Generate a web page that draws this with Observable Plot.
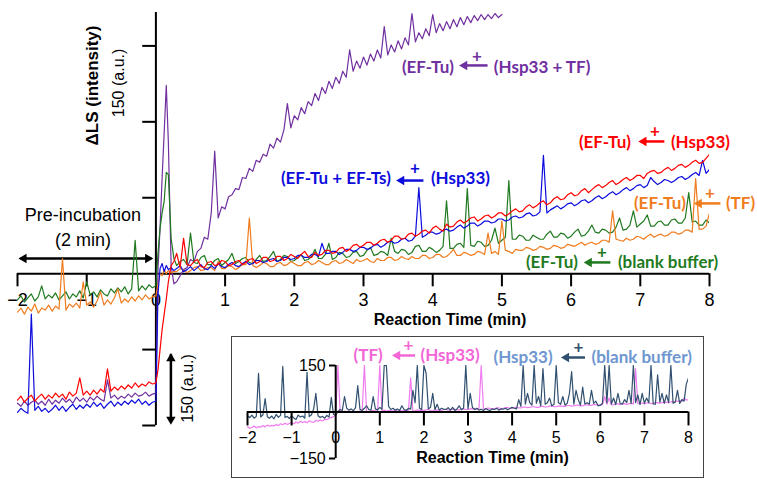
<!DOCTYPE html>
<html>
<head>
<meta charset="utf-8">
<script src="https://cdn.jsdelivr.net/npm/d3@7"></script>
<script src="https://cdn.jsdelivr.net/npm/@observablehq/plot@0.6"></script>
<style>
  body { margin: 0; background: #fff; }
  #wrap { position: relative; width: 757px; height: 484px; overflow: hidden; }
  #main { position: absolute; left: 0; top: 0; }
  #inset { position: absolute; left: 231px; top: 336px; width: 471px; height: 140px; border: 1.5px solid #444; background: #fff; }
</style>
</head>
<body>
<div id="wrap"><div id="main"></div><div id="inset"></div></div>
<script>
// sampling times (min)
const tPre = [-2,-1.95,-1.9,-1.85,-1.8,-1.75,-1.7,-1.65,-1.6,-1.55,-1.5,-1.45,-1.4,-1.35,-1.3,-1.25,-1.2,-1.15,-1.1,-1.05,
  -1,-0.95,-0.9,-0.85,-0.8,-0.75,-0.7,-0.65,-0.6,-0.55,-0.5,-0.45,-0.4,-0.35,-0.3,-0.25,-0.2,-0.15,-0.1,-0.05];
const tStart = [0,0.03,0.06,0.09,0.12,0.15,0.18,0.22,0.26];
const tInsetStart = [0,0.05,0.1,0.15,0.2,0.25];
const tPost = [0.3,0.35,0.4,0.45,0.5,0.55,0.6,0.65,0.7,0.75,
  0.8,0.85,0.9,0.95,1,1.05,1.1,1.15,1.2,1.25,
  1.3,1.35,1.4,1.45,1.5,1.55,1.6,1.65,1.7,1.75,
  1.8,1.85,1.9,1.95,2,2.05,2.1,2.15,2.2,2.25,
  2.3,2.35,2.4,2.45,2.5,2.55,2.6,2.65,2.7,2.75,
  2.8,2.85,2.9,2.95,3,3.05,3.1,3.15,3.2,3.25,
  3.3,3.35,3.4,3.45,3.5,3.55,3.6,3.65,3.7,3.75,
  3.8,3.85,3.9,3.95,4,4.05,4.1,4.15,4.2,4.25,
  4.3,4.35,4.4,4.45,4.5,4.55,4.6,4.65,4.7,4.75,
  4.8,4.85,4.9,4.95,5,5.05,5.1,5.15,5.2,5.25,
  5.3,5.35,5.4,5.45,5.5,5.55,5.6,5.65,5.7,5.75,
  5.8,5.85,5.9,5.95,6,6.05,6.1,6.15,6.2,6.25,
  6.3,6.35,6.4,6.45,6.5,6.55,6.6,6.65,6.7,6.75,
  6.8,6.85,6.9,6.95,7,7.05,7.1,7.15,7.2,7.25,
  7.3,7.35,7.4,7.45,7.5,7.55,7.6,7.65,7.7,7.75,
  7.8,7.85,7.9,7.95,8];
const times = [...tPre, ...tStart, ...tPost];
const insetTimes = [...tPre, ...tInsetStart, ...tPost];

// (EF-Tu) + (Hsp33 + TF), recorded to 5 min
const tuHspTf = [-128,-131,-126,-130,-127,-125,-129,-126,-130,-124,
  -129,-125,-128,-123,-127,-124,-128,-122,-126,-123,
  -127,-122,-125,-121,-124,-126,-105,-123,-120,-124,
  -121,-123,-119,-122,-118,-121,-120,-117,-121,-119,
  -118,5,45,95,140,186,130,8,-10,
  -8,-2,4,6,14,12,22,25,36,34,
  60,121,55,66,64,76,78,84,83,95,
  94,104,101,112,110,118,116,128,124,134,
  130,142,168,144,156,152,164,158,170,166,
  178,171,184,178,190,183,194,188,200,194,
  221,200,210,203,214,206,217,210,221,213,
  244,216,226,219,230,222,233,226,257,229,
  238,232,242,235,256,238,247,240,249,242,
  251,244,253,246,254,248,255,250,256,251,
  256,252,257,253,256];

// (EF-Tu) + (blank buffer)
const tuBlank = [-26,-22,-28,-24,-20,-27,-23,-12,-25,-21,
  -24,-19,-26,-22,-18,-25,-20,-23,-17,-24,
  -8,-21,-18,-23,-16,-20,-22,-15,-19,-14,
  -18,-13,-20,-15,33,-17,-12,-16,-11,-14,
  -12,20,45,60,72,100,98,35,15,
  8,12,14,9,40,11,10,16,18,9,
  9,13,15,8,11,14,20,10,12,15,
  16,11,10,14,18,12,13,17,22,12,
  14,18,17,12,13,16,19,13,14,17,
  24,15,15,19,30,14,16,21,20,16,
  17,21,22,17,18,23,26,18,19,22,
  21,18,35,22,20,24,23,19,21,27,
  28,22,22,26,24,21,23,27,72,25,
  25,29,30,26,84,28,27,32,31,27,
  28,33,45,30,33,36,92,34,34,38,
  37,33,33,38,36,34,34,39,42,36,
  36,40,39,35,37,41,44,37,38,42,
  48,41,40,44,43,40,41,46,55,43,
  44,48,62,46,49,52,58,47,47,51,
  52,48,48,53,54,50,50,55,80,51,
  52,48,48,53,50];

// (EF-Tu) + (TF)
const tuTf = [-38,-34,-40,-33,-37,-30,-39,-34,-36,-31,
  -37,-32,-35,15,-36,-30,-33,-29,-34,-8,
  -31,-28,-33,-27,-18,-31,-26,-30,-24,-15,
  -29,-25,-28,-23,-27,-22,-26,-21,-25,-23,
  -22,-10,0,-2,4,0,3,1,2,
  2,5,4,1,3,6,7,3,4,6,
  6,3,12,5,5,8,7,4,6,9,
  9,55,8,6,8,11,10,7,7,10,
  11,8,9,12,10,8,8,11,12,9,
  10,13,11,9,9,12,13,10,11,14,
  12,10,14,12,13,15,12,11,15,13,
  13,16,16,13,14,17,15,14,17,15,
  15,18,18,15,16,19,19,16,17,20,
  24,18,18,21,20,18,19,22,21,19,
  40,20,22,19,52,23,22,20,24,23,
  23,26,25,23,24,27,26,24,25,28,
  27,25,26,29,28,27,29,31,28,30,
  31,29,30,33,33,31,62,34,33,32,
  35,33,34,37,36,34,37,39,36,38,
  39,37,38,41,41,39,40,43,43,41,
  94,44,44,47,60];

// (EF-Tu + EF-Ts) + (Hsp33)
const tuTsHsp = [-137,-133,-136,-138,-40,-135,-131,-136,-133,-137,
  -134,-130,-135,-131,-136,-132,-129,-134,-130,-133,
  -129,-132,-127,-131,-128,-133,-129,-126,-131,-127,
  -130,-126,-129,-125,-128,-124,-129,-126,-130,-127,
  -126,-20,5,10,2,8,4,6,3,
  5,8,2,4,7,3,6,9,5,4,
  8,5,10,7,6,9,11,8,7,10,
  12,9,10,13,13,11,12,14,15,12,
  13,16,16,14,15,18,18,16,16,19,
  19,17,30,20,20,22,22,19,21,24,
  24,22,23,26,26,24,25,28,29,26,
  28,31,32,30,31,34,35,32,33,37,
  85,36,38,41,41,39,40,43,44,42,
  43,46,48,45,47,50,50,47,49,52,
  52,50,51,54,54,52,53,56,57,55,
  56,59,60,57,58,61,117,60,63,65,
  67,64,66,69,70,67,69,72,73,70,
  72,75,77,74,76,79,81,78,80,83,
  85,82,84,87,88,85,87,95,91,88,
  90,93,92,90,92,95,96,93,95,98,
  100,97,112,99,103];

// (EF-Tu) + (Hsp33)
const tuHsp = [-125,-121,-127,-123,-120,-126,-122,-119,-124,-120,
  -123,-118,-122,-119,-124,-117,-121,-118,-103,-120,
  -116,-120,-115,-119,-114,-117,-94,-116,-112,-115,
  -111,-114,-110,-113,-108,-112,-109,-111,-107,-109,
  -108,-95,-75,-55,-40,-25,-8,8,12,
  20,6,35,9,8,12,14,7,6,11,
  12,8,9,13,12,8,9,12,13,9,
  11,14,15,10,12,16,16,12,13,17,
  17,13,15,19,17,15,19,22,17,16,
  21,18,19,23,23,20,21,25,26,22,
  24,28,29,26,28,31,31,28,30,33,
  34,31,33,37,37,34,35,39,40,37,
  39,42,43,40,45,47,44,42,49,46,
  47,51,53,50,52,55,56,52,54,57,
  58,55,57,60,60,57,59,62,64,61,
  62,66,68,65,67,70,72,68,70,74,
  76,73,74,78,80,77,78,82,84,80,
  83,86,88,85,87,90,92,88,90,93,
  95,92,94,97,97,94,99,101,102,99,
  100,103,105,102,104,107,108,105,107,110,
  112,109,110,114,118];

// inset: (Hsp33) + (blank buffer)
const hspBlank = [-12,-18,-10,-20,-14,125,-16,-9,43,-15,
  -20,-13,-22,-8,-17,-11,147,-18,-14,-21,
  -12,-19,-24,-10,-16,-13,-20,128,-15,-9,
  10,60,-12,-18,-14,-20,-11,-16,47,-8,
  -10,2,8,5,50,12,6,10,4,14,
  85,9,5,12,20,8,6,50,10,7,
  15,9,150,150,18,8,12,6,10,5,
  20,8,5,12,9,70,30,150,12,8,
  150,125,10,15,60,8,25,6,12,9,
  8,14,6,15,5,10,20,7,12,150,
  10,60,15,8,12,6,9,5,11,7,
  5,10,8,12,6,10,9,12,7,11,
  15,12,10,40,18,150,25,60,30,22,
  150,28,50,20,140,25,30,45,20,24,
  150,30,25,50,22,28,60,130,25,70,
  40,22,80,26,30,25,70,28,35,20,
  22,28,150,30,150,26,45,24,60,28,
  25,40,30,70,28,150,30,55,24,60,
  28,45,30,150,26,25,120,32,60,28,
  55,30,150,28,32,70,28,40,35,90,
  110];

// inset: (TF) + (Hsp33)
const tfHsp = [-48,-52,-50,-45,-51,-47,-49,-44,-48,-42,
  -46,-43,-45,-40,-44,-38,-41,-36,-40,-37,
  -34,-38,-32,-36,-30,-34,-31,-35,-28,-32,
  -33,-27,-30,-26,-29,-24,-25,-20,-18,-15,
  -10,150,5,-2,3,0,4,-1,3,1,
  0,4,2,150,3,2,3,5,4,2,
  150,3,6,2,5,4,3,6,2,5,
  3,5,6,4,110,3,4,7,5,6,
  5,7,8,4,4,6,7,5,5,8,
  8,6,6,9,9,7,7,10,10,8,
  8,10,11,9,9,12,150,10,10,13,
  12,10,11,13,13,11,12,14,14,12,
  12,14,15,13,13,16,16,14,15,17,
  17,15,15,18,18,16,17,19,19,17,
  17,19,20,18,18,21,21,19,20,22,
  22,20,20,23,23,21,22,24,24,22,
  22,24,50,25,45,23,24,26,26,24,
  26,27,24,27,28,26,140,28,27,29,
  26,29,30,27,28,31,30,28,31,32,
  31,30,33,34,33,35,36,34,45,38,
  40];

const xTicks = [-2,-1,0,1,2,3,4,5,6,7,8];
const xTickLabels = ["−2","−1","0","1","2","3","4","5","6","7","8"];
const yTicks = [-150,-75,75,150,225];
const insetYTicks = [-150,150];
const insetYLabels = ["−150","150"];

const PURPLE = "#7030a0", GREEN = "#1f7a1f", ORANGE = "#f07c1e", BLUE = "#0c0cdc", RED = "#ff0000";
const NAVY = "#31506f", PINK = "#f07cf0", PINKTXT = "#f266d6", STEEL = "#6e96d0";

const series = [
  {values: tuHspTf, color: PURPLE},
  {values: tuBlank, color: GREEN},
  {values: tuTf, color: ORANGE},
  {values: tuTsHsp, color: BLUE},
  {values: tuHsp, color: RED}
];

const rowsOf = (vals, ts) => vals.map((v, i) => ({t: ts[i], v}));

const annoFont = "Lato, 'Liberation Sans', sans-serif";
const baseFont = "'Liberation Sans', Arial, sans-serif";

// annotation layout (data units of the main chart)
const mainLabels = [
  {x: 3.555, y: 203.7, text: "(EF-Tu)", color: PURPLE},
  {x: 4.884, y: 203.7, text: "(Hsp33 + TF)", color: PURPLE},
  {x: 1.806, y: 94.0, text: "(EF-Tu + EF-Ts)", color: BLUE},
  {x: 3.974, y: 94.0, text: "(Hsp33)", color: BLUE},
  {x: 6.113, y: 129.6, text: "(EF-Tu)", color: RED},
  {x: 7.442, y: 129.6, text: "(Hsp33)", color: RED},
  {x: 6.908, y: 69.4, text: "(EF-Tu)", color: ORANGE},
  {x: 8.237, y: 69.4, text: "(TF)", color: ORANGE},
  {x: 5.347, y: 11.1, text: "(EF-Tu)", color: GREEN},
  {x: 6.676, y: 11.1, text: "(blank buffer)", color: GREEN}
];
const mainPlus = [
  {x: 4.64, y: 214.6, color: PURPLE},
  {x: 3.743, y: 103.9, color: BLUE},
  {x: 7.211, y: 140.6, color: RED},
  {x: 8.006, y: 79.2, color: ORANGE},
  {x: 6.445, y: 20.9, color: GREEN}
];
const mainArrows = [
  {x1: 4.80, x2: 4.46, y: 205.7, color: PURPLE},
  {x1: 3.873, x2: 3.55, y: 92.0, color: BLUE},
  {x1: 7.355, x2: 7.05, y: 130.6, color: RED},
  {x1: 8.165, x2: 7.85, y: 69.4, color: ORANGE},
  {x1: 6.575, x2: 6.26, y: 11.1, color: GREEN}
];

const main = Plot.plot({
  width: 757,
  height: 484,
  marginLeft: 17,
  marginRight: 48,
  marginTop: 12,
  marginBottom: 59,
  style: {fontFamily: baseFont, background: "transparent"},
  x: {domain: [-2, 8], axis: null},
  y: {domain: [-150, 258], axis: null},
  color: {type: "identity"},
  marks: [
    // axes
    Plot.ruleY([0], {x1: -2, x2: 8, stroke: "black", strokeWidth: 2}),
    Plot.ruleX(xTicks.filter(d => d !== 0), {x: d => d, y1: 0, y2: -13, stroke: "black", strokeWidth: 2}),
    Plot.ruleX([0], {y1: -150, y2: 258, stroke: "black", strokeWidth: 2}),
    Plot.ruleY(yTicks, {y: d => d, x1: -0.19, x2: 0, stroke: "black", strokeWidth: 2}),
    Plot.text(xTicks, {x: d => d, y: 0, dy: 27, text: (d, i) => xTickLabels[i], fontSize: 18, fill: "black"}),
    Plot.text(["Reaction Time (min)"], {x: 4.25, y: -46, text: d => d, fontSize: 16, fontWeight: "bold", fill: "black"}),
    Plot.text(["ΔLS (intensity)"], {x: -0.91, y: 185.9, text: d => d, rotate: -90, fontSize: 17, fontWeight: "bold", fill: "black"}),
    Plot.text(["150 (a.u.)"], {x: -0.542, y: 188.4, text: d => d, rotate: -90, fontSize: 16, fill: "black"}),
    Plot.text(["150 (a.u.)"], {x: 0.462, y: -113.4, text: d => d, rotate: -90, fontSize: 16, fill: "black"}),
    Plot.text(["Pre-incubation"], {x: -1.055, y: 57.5, text: d => d, fontSize: 18, fill: "black"}),
    Plot.text(["(2 min)"], {x: -1.055, y: 32.8, text: d => d, fontSize: 18, fill: "black"}),
    // pre-incubation double arrow
    Plot.ruleY([15], {x1: -1.95, x2: -0.06, stroke: "black", strokeWidth: 2.5}),
    Plot.dot([-1.908], {x: d => d, y: 15, symbol: "triangle2", rotate: -90, r: 4.5, fill: "black"}),
    Plot.dot([-0.116], {x: d => d, y: 15, symbol: "triangle2", rotate: 90, r: 4.5, fill: "black"}),
    // scale bar double arrow
    Plot.ruleX([0.2168], {x: d => d, y1: -80, y2: -146, stroke: "black", strokeWidth: 2.5}),
    Plot.dot([-83.8], {x: 0.2168, y: d => d, symbol: "triangle2", rotate: 0, r: 4.5, fill: "black"}),
    Plot.dot([-144], {x: 0.2168, y: d => d, symbol: "triangle2", rotate: 180, r: 4.5, fill: "black"}),
    // traces
    ...series.map(s => Plot.line(rowsOf(s.values, times), {x: "t", y: "v", stroke: s.color, strokeWidth: 1.2, clip: true})),
    // annotations
    Plot.text(mainLabels, {x: "x", y: "y", text: "text", fill: "color", textAnchor: "start", fontSize: 17, fontWeight: "bold", fontFamily: annoFont}),
    Plot.text(mainPlus, {x: "x", y: "y", text: d => "+", fill: "color", fontSize: 17, fontWeight: "bold", fontFamily: annoFont}),
    Plot.ruleY(mainArrows, {y: "y", x1: "x1", x2: "x2", stroke: "color", strokeWidth: 2.5}),
    Plot.dot(mainArrows, {x: "x2", y: "y", symbol: "triangle2", rotate: -90, r: 4.5, fill: "color"})
  ]
});
document.getElementById("main").append(main);

// inset
const insetLabels = [
  {x: 0.404, y: 182.3, text: "(TF)", color: PINKTXT},
  {x: 1.923, y: 182.3, text: "(Hsp33)", color: PINKTXT},
  {x: 3.578, y: 175.8, text: "(Hsp33)", color: STEEL},
  {x: 5.800, y: 175.8, text: "(blank buffer)", color: STEEL}
];
const insetPlus = [
  {x: 1.651, y: 214.5, color: PINKTXT},
  {x: 5.506, y: 208, color: NAVY}
];
const insetArrows = [
  {x1: 1.810, x2: 1.40, y: 182.3, color: PINKTXT},
  {x1: 5.664, x2: 5.23, y: 175.8, color: NAVY}
];

const inset = Plot.plot({
  width: 471,
  height: 140,
  marginLeft: 15,
  marginRight: 15,
  marginTop: 28,
  marginBottom: 19,
  style: {fontFamily: baseFont, background: "white", overflow: "visible"},
  x: {domain: [-2, 8], axis: null},
  y: {domain: [-150, 150], axis: null},
  color: {type: "identity"},
  marks: [
    Plot.line(rowsOf(tfHsp, insetTimes), {x: "t", y: "v", stroke: PINK, strokeWidth: 1.2, clip: true}),
    Plot.line(rowsOf(hspBlank, insetTimes), {x: "t", y: "v", stroke: NAVY, strokeWidth: 1.2, clip: true}),
    Plot.ruleY([0], {x1: -2, x2: 8, stroke: "black", strokeWidth: 2}),
    Plot.ruleX(xTicks.filter(d => d !== 0), {x: d => d, y1: 0, y2: -45, stroke: "black", strokeWidth: 2}),
    Plot.ruleX([0], {y1: -150, y2: 150, stroke: "black", strokeWidth: 2}),
    Plot.ruleY(insetYTicks, {y: d => d, x1: -0.14, x2: 0, stroke: "black", strokeWidth: 2}),
    Plot.text(xTicks, {x: d => d, y: 0, dy: 26, text: (d, i) => xTickLabels[i], fontSize: 16, fill: "black"}),
    Plot.text(insetYTicks, {x: 0, y: d => d, dx: -10, textAnchor: "end", text: (d, i) => insetYLabels[i], fontSize: 16, fill: "black"}),
    Plot.text(["Reaction Time (min)"], {x: 3.556, y: -146.8, text: d => d, fontSize: 16, fontWeight: "bold", fill: "black"}),
    Plot.text(insetLabels, {x: "x", y: "y", text: "text", fill: "color", textAnchor: "start", fontSize: 17, fontWeight: "bold", fontFamily: annoFont}),
    Plot.text(insetPlus, {x: "x", y: "y", text: d => "+", fill: "color", fontSize: 17, fontWeight: "bold", fontFamily: annoFont}),
    Plot.ruleY(insetArrows, {y: "y", x1: "x1", x2: "x2", stroke: "color", strokeWidth: 2.5}),
    Plot.dot(insetArrows, {x: "x2", y: "y", symbol: "triangle2", rotate: -90, r: 4.5, fill: "color"})
  ]
});
document.getElementById("inset").append(inset);
</script>
</body>
</html>
